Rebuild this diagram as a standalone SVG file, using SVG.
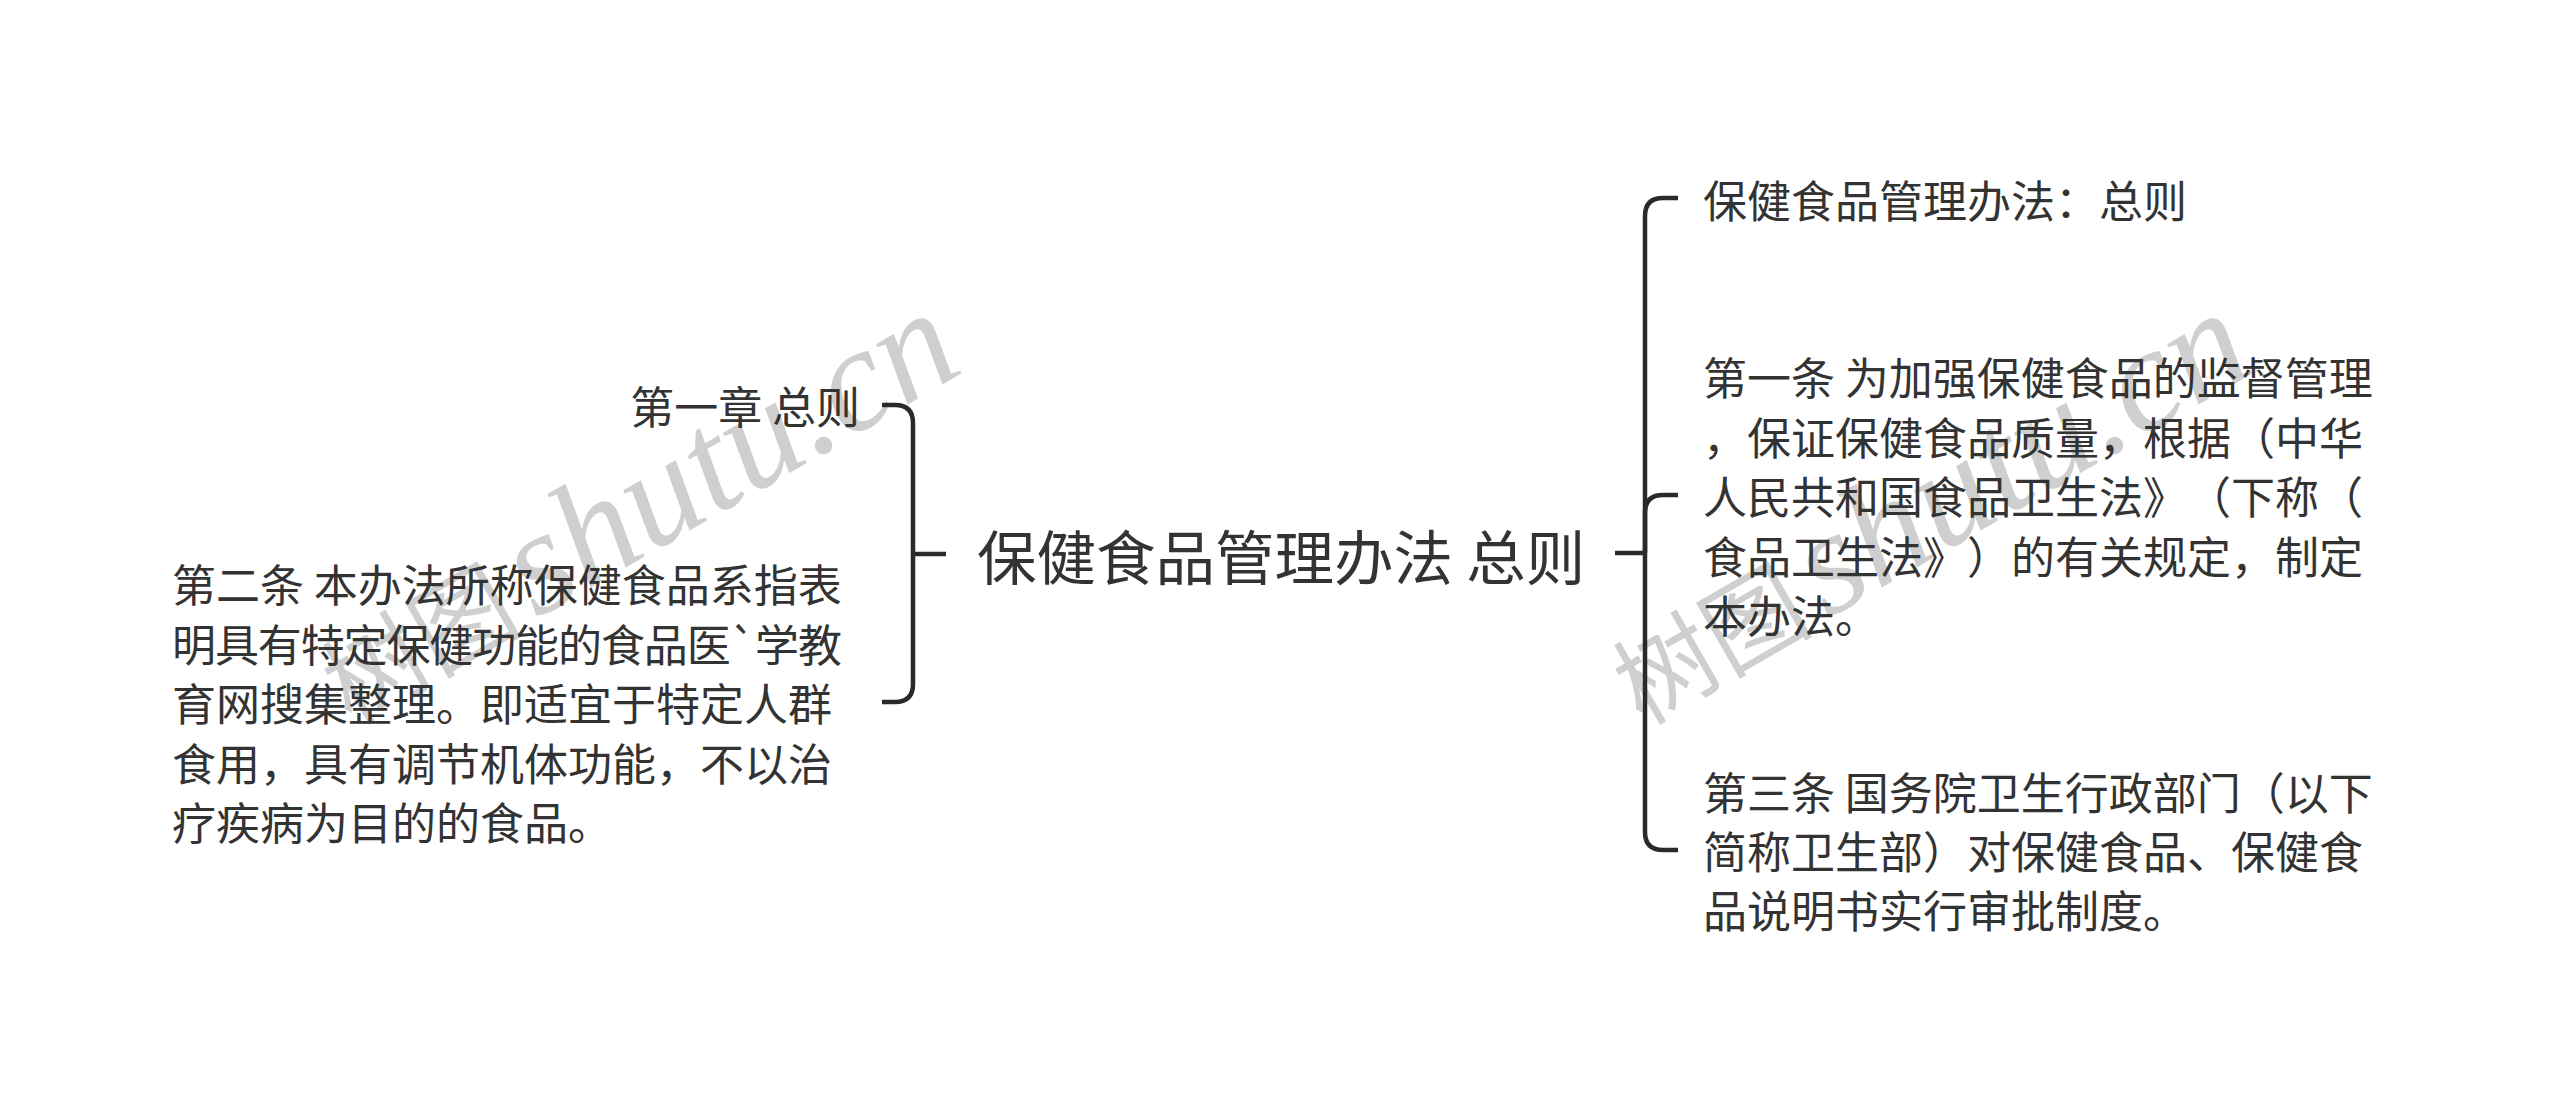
<svg xmlns="http://www.w3.org/2000/svg" width="2560" height="1109" viewBox="0 0 2560 1109">
<style>
  .bg { fill: #ffffff; }
  .t { font-family: "Noto Sans CJK SC", "Noto Sans", sans-serif; fill: #333333; dominant-baseline: central; text-spacing-trim: space-all; font-feature-settings: "halt" 0, "chws" 0; }
  .root { font-size: 59.5px; }
  .n { font-size: 44px; }
  .c { fill: none; stroke: #2a2a2a; stroke-width: 4.5; stroke-linecap: butt; stroke-linejoin: round; }
  .wm { fill: #cfcfcf; }
  .wmc { font-family: "Noto Sans CJK SC", sans-serif; font-size: 100px; }
  .wml { font-family: "Liberation Serif", serif; font-style: italic; font-size: 148px; }
</style>
<rect class="bg" x="0" y="0" width="2560" height="1109"/>

<g id="watermarks">
  <text class="wm" transform="translate(351,726) rotate(-30)"><tspan class="wmc">树图</tspan><tspan class="wml" dx="14">shutu.cn</tspan></text>
  <text class="wm" transform="translate(1642,726) rotate(-30)"><tspan class="wmc">树图</tspan><tspan class="wml" dx="14">shutu.cn</tspan></text>
</g>

<g id="connectors">
  <path class="c" d="M946,554 L913,554"/>
  <path class="c" d="M913,554 L913,423 Q913,405 895,405 L882,405"/>
  <path class="c" d="M913,554 L913,684 Q913,702 895,702 L882,702"/>
  <path class="c" d="M1615,553 L1645,553"/>
  <path class="c" d="M1645,553 L1645,216 Q1645,198 1663,198 L1678,198"/>
  <path class="c" d="M1645,553 L1645,513 Q1645,495 1663,495 L1678,495"/>
  <path class="c" d="M1645,553 L1645,832 Q1645,850 1663,850 L1678,850"/>
</g>

<g id="root">
  <text class="t root" x="977" y="554">保健食品管理办法 总则</text>
</g>

<g id="left-1">
  <text class="t n" x="860" y="405" text-anchor="end">第一章 总则</text>
</g>

<g id="left-2">
  <text class="t n" x="172" y="583">第二条 本办法所称保健食品系指表</text>
  <text class="t n" x="172" y="642.5" textLength="670" lengthAdjust="spacing">明具有特定保健功能的食品医`学教</text>
  <text class="t n" x="172" y="702">育网搜集整理。即适宜于特定人群</text>
  <text class="t n" x="172" y="761.5">食用，具有调节机体功能，不以治</text>
  <text class="t n" x="172" y="821">疗疾病为目的的食品。</text>
</g>

<g id="right-1">
  <text class="t n" x="1703" y="199">保健食品管理办法：总则</text>
</g>

<g id="right-2">
  <text class="t n" x="1703" y="376">第一条 为加强保健食品的监督管理</text>
  <text class="t n" x="1703" y="435.5">，保证保健食品质量，根据（中华</text>
  <text class="t n" x="1703" y="495">人民共和国食品卫生法》（下称（</text>
  <text class="t n" x="1703" y="554.5">食品卫生法》）的有关规定，制定</text>
  <text class="t n" x="1703" y="614">本办法。</text>
</g>

<g id="right-3">
  <text class="t n" x="1703" y="791">第三条 国务院卫生行政部门（以下</text>
  <text class="t n" x="1703" y="850">简称卫生部）对保健食品、保健食</text>
  <text class="t n" x="1703" y="909">品说明书实行审批制度。</text>
</g>
</svg>
